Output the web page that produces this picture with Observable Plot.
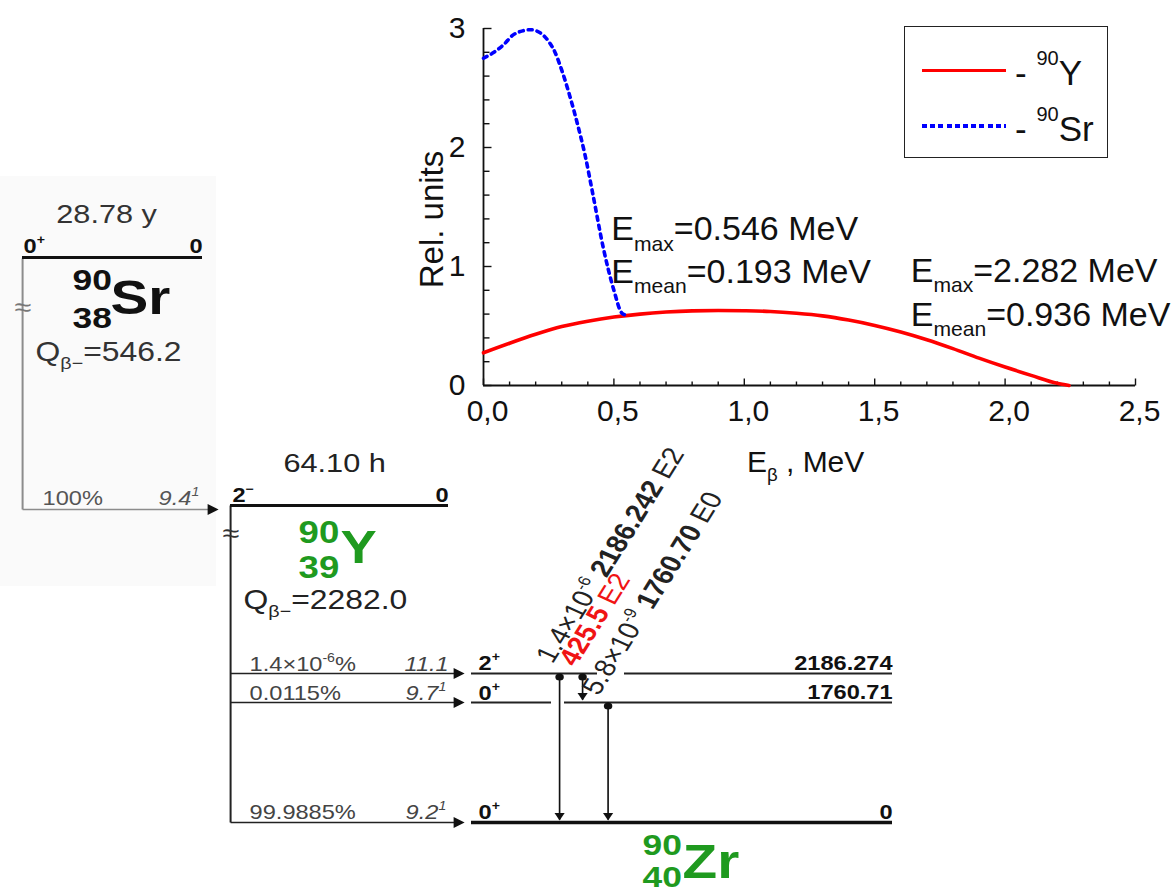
<!DOCTYPE html>
<html>
<head>
<meta charset="utf-8">
<script src="https://cdn.jsdelivr.net/npm/d3@7"></script>
<script src="https://cdn.jsdelivr.net/npm/@observablehq/plot@0.6"></script>
<style>
  html, body { margin: 0; padding: 0; background: #fff; }
  #page { position: relative; width: 1173px; height: 894px; overflow: hidden;
          font-family: "Liberation Sans", Arial, Helvetica, sans-serif; }
  #scheme { position: absolute; left: 0; top: 0; width: 1173px; height: 894px; }
  #scheme svg { transform: scaleX(1.18); transform-origin: 0 0; }
  #chart { position: absolute; left: 400px; top: 0; width: 773px; height: 500px; }
  #chart svg { background: transparent !important; }
  .lg-box { position: absolute; left: 904px; top: 26px; width: 204px; height: 132px;
            box-sizing: border-box; border: 1.5px solid #222; background: #fff; }
  .lg-red { position: absolute; left: 922px; top: 69px; width: 84px; height: 3.2px; background: #ff0000; }
  .lg-blue { position: absolute; left: 922px; top: 124px; width: 84px; height: 3.6px;
             background: repeating-linear-gradient(to right, #0000ff 0 5px, transparent 5px 8.2px); }
  .lg-text { position: absolute; left: 1015px; font-size: 35px; line-height: 35px; color: #111; white-space: pre; }
  .lg-text .sup { font-size: 20px; position: relative; top: -20px; }
</style>
</head>
<body>
<div id="page">
  <div id="scheme"></div>
  <div id="chart"></div>
  <div class="lg-box"></div>
  <div class="lg-red"></div>
  <div class="lg-blue"></div>
  <div class="lg-text" style="top:55px">- <span class="sup">90</span>Y</div>
  <div class="lg-text" style="top:111px">- <span class="sup">90</span>Sr</div>
</div>
<script>
const FONT = '"Liberation Sans", Arial, Helvetica, sans-serif';
const K = 1.18; // horizontal stretch applied to the level scheme

// ---------- Beta spectra (relative units vs. electron energy, MeV) ----------
const y90Energy = [0, 0.1, 0.2, 0.3, 0.4, 0.5, 0.6, 0.7, 0.8, 0.9, 1.0, 1.1, 1.2, 1.3, 1.4, 1.5, 1.6, 1.7, 1.8, 1.9, 2.0, 2.1, 2.2, 2.245];
const y90Rel    = [0.275, 0.355, 0.43, 0.495, 0.54, 0.575, 0.60, 0.617, 0.627, 0.63, 0.628, 0.622, 0.607, 0.585, 0.55, 0.505, 0.45, 0.385, 0.31, 0.23, 0.155, 0.085, 0.018, 0];
const sr90Energy = [0, 0.04, 0.08, 0.11, 0.15, 0.18, 0.22, 0.25, 0.27, 0.30, 0.33, 0.36, 0.39, 0.42, 0.46, 0.50, 0.53, 0.548];
const sr90Rel    = [2.75, 2.80, 2.87, 2.94, 2.98, 2.99, 2.96, 2.89, 2.82, 2.65, 2.44, 2.20, 1.93, 1.60, 1.15, 0.80, 0.61, 0.59];

const xMajor = [0, 0.5, 1, 1.5, 2, 2.5];
const xMinor = d3.range(0, 26).map(i => i / 10).filter(v => !xMajor.includes(v));
const yMajor = [0, 1, 2, 3];
const yMinor = d3.range(0, 16).map(i => i / 5).filter(v => !yMajor.includes(v));

const annotations = [
  {x: 0.49, y: 1.22, t: "E_{max}=0.546 MeV"},
  {x: 0.49, y: 0.86, t: "E_{mean}=0.193 MeV"},
  {x: 1.638, y: 0.87, t: "E_{max}=2.282 MeV"},
  {x: 1.638, y: 0.50, t: "E_{mean}=0.936 MeV"}
];

// ---------- 90Sr -> 90Y -> 90Zr level scheme (schematic layout) ----------
const backdrop = [{x1: 0, x2: 216, y1: 176, y2: 586}];
const levelLines = [
  {x1: 22, x2: 202, y: 257, w: 3},
  {x1: 230, x2: 448, y: 505, w: 3},
  {x1: 471, x2: 597, y: 673, w: 1.8}, {x1: 624, x2: 892, y: 673, w: 1.8},
  {x1: 471, x2: 551, y: 702, w: 1.8}, {x1: 564, x2: 892, y: 702, w: 1.8},
  {x1: 471, x2: 892, y: 822, w: 3.6}
];
const feedLines = [
  {x1: 22, y1: 258, x2: 22, y2: 509, c: "#8c8c8c"},
  {x1: 22, y1: 509, x2: 210, y2: 509, c: "#8c8c8c"},
  {x1: 230, y1: 505, x2: 230, y2: 822, c: "#222222"},
  {x1: 230, y1: 673, x2: 458, y2: 673, c: "#222222"},
  {x1: 230, y1: 702, x2: 458, y2: 702, c: "#222222"},
  {x1: 230, y1: 822, x2: 458, y2: 822, c: "#222222"}
];
const feedTips = [{x: 218, y: 509}, {x: 464, y: 673}, {x: 464, y: 702}, {x: 464, y: 822}];
const gammas = [
  {x: 559, y1: 673, y2: 822},
  {x: 582, y1: 673, y2: 702},
  {x: 607.5, y1: 702, y2: 822}
];
const GREEN = "#1f9a1f";
const RED = "#f01414";
const textStart = [
  {x: 35, y: 360, t: "Q_{β−}=546.2", size: 27, fill: "#333333"},
  {x: 42, y: 504, t: "100%", size: 20, fill: "#555555"},
  {x: 243, y: 608, t: "Q_{β−}=2282.0", size: 27, fill: "#222222"},
  {x: 249, y: 670, t: "1.4×10^{-6}%", size: 20, fill: "#444444"},
  {x: 249, y: 699, t: "0.0115%", size: 20, fill: "#444444"},
  {x: 249, y: 818, t: "99.9885%", size: 20, fill: "#444444"},
  {x: 552, y: 664, t: "1.4×10^{-6} *{2186.242} E2", size: 25, fill: "#222222", rot: -62},
  {x: 575, y: 667, t: "*{425.5} E2", size: 25, fill: RED, rot: -62},
  {x: 598, y: 696, t: "5.8×10^{-9} *{1760.70} E0", size: 25, fill: "#222222", rot: -62}
];
const textMiddle = [
  {x: 106, y: 222, t: "28.78 y", size: 26, fill: "#333333"},
  {x: 334, y: 471, t: "64.10 h", size: 26, fill: "#222222"},
  {x: 22, y: 315, t: "≈", size: 26, fill: "#777777"},
  {x: 230, y: 541, t: "≈", size: 26, fill: "#333333"}
];
const textItalic = [
  {x: 158, y: 504, t: "9.4^{1}", size: 20, fill: "#555555"},
  {x: 404, y: 670, t: "11.1", size: 20, fill: "#444444"},
  {x: 405, y: 699, t: "9.7^{1}", size: 20, fill: "#444444"},
  {x: 405, y: 818, t: "9.2^{1}", size: 20, fill: "#444444"}
];
const textBold = [
  {x: 23, y: 252, t: "0^{+}", size: 20, fill: "#111111"},
  {x: 72, y: 289, t: "90", size: 30, fill: "#111111"},
  {x: 72, y: 327, t: "38", size: 30, fill: "#111111"},
  {x: 110, y: 313, t: "Sr", size: 48, fill: "#111111"},
  {x: 232, y: 501, t: "2^{−}", size: 20, fill: "#111111"},
  {x: 298, y: 542, t: "90", size: 31, fill: GREEN},
  {x: 298, y: 577, t: "39", size: 31, fill: GREEN},
  {x: 340, y: 562, t: "Y", size: 46, fill: GREEN},
  {x: 478, y: 669, t: "2^{+}", size: 20, fill: "#111111"},
  {x: 478, y: 699, t: "0^{+}", size: 20, fill: "#111111"},
  {x: 478, y: 818, t: "0^{+}", size: 20, fill: "#111111"},
  {x: 642, y: 854, t: "90", size: 30, fill: GREEN},
  {x: 642, y: 886, t: "40", size: 30, fill: GREEN},
  {x: 682, y: 877, t: "Zr", size: 48, fill: GREEN}
];
const textBoldEnd = [
  {x: 202, y: 252, t: "0", size: 20, fill: "#111111"},
  {x: 448, y: 501, t: "0", size: 20, fill: "#111111"},
  {x: 892, y: 669, t: "2186.274", size: 20, fill: "#111111"},
  {x: 892, y: 698, t: "1760.71", size: 20, fill: "#111111"},
  {x: 892, y: 818, t: "0", size: 20, fill: "#111111"}
];

function labels(items, opts = {}) {
  return Plot.text(items, {
    x: "x", y: "y", text: "t", fontSize: "size",
    fill: d => d.fill, rotate: d => d.rot || 0,
    lineAnchor: "bottom", textAnchor: "start", ...opts
  });
}

const scheme = Plot.plot({
  width: 1173, height: 894, margin: 0,
  x: {type: "linear", domain: [0, 1173], range: [0, 1173 / K], axis: null},
  y: {type: "linear", domain: [0, 894], range: [0, 894], axis: null},
  style: {fontFamily: FONT, background: "white"},
  marks: [
    Plot.rect(backdrop, {x1: "x1", x2: "x2", y1: "y1", y2: "y2", fill: "#fafafa"}),
    Plot.link(feedLines, {x1: "x1", y1: "y1", x2: "x2", y2: "y2", stroke: d => d.c, strokeWidth: 1.7}),
    Plot.ruleY(levelLines.filter(d => d.w < 3), {y: "y", x1: "x1", x2: "x2", stroke: "#222", strokeWidth: 1.8}),
    Plot.ruleY(levelLines.filter(d => d.w === 3), {y: "y", x1: "x1", x2: "x2", stroke: "#111", strokeWidth: 3}),
    Plot.ruleY(levelLines.filter(d => d.w > 3), {y: "y", x1: "x1", x2: "x2", stroke: "#111", strokeWidth: 3.6}),
    Plot.dot(feedTips, {x: "x", y: "y", symbol: "triangle", r: 4, fill: "#111", stroke: null, rotate: 90, dx: -6.2}),
    Plot.link(gammas, {x1: "x", x2: "x", y1: "y1", y2: d => d.y2 - 3, stroke: "#111", strokeWidth: 1.4}),
    Plot.dot(gammas, {x: "x", y: d => d.y1 + 3.5, symbol: "circle", r: 3.6, fill: "#111", stroke: null}),
    Plot.dot(gammas, {x: "x", y: d => d.y2 - 2, symbol: "triangle", r: 3.2, fill: "#111", stroke: null, rotate: 180, dy: -4.9}),
    labels(textStart),
    labels(textMiddle, {textAnchor: "middle"}),
    labels(textItalic, {fontStyle: "italic"}),
    labels(textBold, {fontWeight: "bold"}),
    labels(textBoldEnd, {fontWeight: "bold", textAnchor: "end"})
  ]
});

// ---------- Spectrum chart ----------
const plotW = 773 - 83 - 38, plotH = 500 - 28 - 115;
const xPerPx = 2.5 / plotW, yPerPx = 3 / plotH;
const y90Rows = y90Energy.map((E, i) => ({E, rel: y90Rel[i]}));
const sr90Rows = sr90Energy.map((E, i) => ({E, rel: sr90Rel[i]}));
const commaFmt = d => d.toFixed(1).replace(".", ",");

const chart = Plot.plot({
  width: 773, height: 500,
  marginLeft: 83, marginRight: 38, marginTop: 28, marginBottom: 115,
  style: {background: "transparent", fontFamily: FONT, fontSize: "30px", color: "#111"},
  x: {domain: [0, 2.5]},
  y: {domain: [0, 3]},
  marks: [
    Plot.axisX({ticks: xMajor, tickSize: 0, tickPadding: 14, dx: 4, tickFormat: commaFmt, label: null, fontSize: 30}),
    Plot.axisY({ticks: yMajor, tickSize: 0, tickPadding: 18, tickFormat: d => String(d), label: null, fontSize: 30}),
    Plot.link(xMinor, {x1: d => d, x2: d => d, y1: () => 0, y2: () => 4 * yPerPx, stroke: "#111", strokeWidth: 1.4}),
    Plot.link(xMajor, {x1: d => d, x2: d => d, y1: () => 0, y2: () => 7 * yPerPx, stroke: "#111", strokeWidth: 1.4}),
    Plot.link(yMinor, {y1: d => d, y2: d => d, x1: () => 0, x2: () => 6 * xPerPx, stroke: "#111", strokeWidth: 1.4}),
    Plot.link(yMajor, {y1: d => d, y2: d => d, x1: () => 0, x2: () => 8 * xPerPx, stroke: "#111", strokeWidth: 1.4}),
    Plot.ruleY([0], {stroke: "#111", strokeWidth: 1.8}),
    Plot.ruleX([0], {stroke: "#111", strokeWidth: 1.8}),
    Plot.line(y90Rows, {x: "E", y: "rel", stroke: "#ff0000", strokeWidth: 3.6, curve: "monotone-x"}),
    Plot.line(sr90Rows, {x: "E", y: "rel", stroke: "#0000ff", strokeWidth: 3.6, strokeDasharray: "4,5", curve: "monotone-x"}),
    Plot.text(annotations, {x: "x", y: "y", text: "t", fontSize: 34, textAnchor: "start", lineAnchor: "bottom", fill: "#111"}),
    Plot.text(["E_{β} , MeV"], {x: () => 1.01, y: () => -0.73, text: d => d, fontSize: 30, textAnchor: "start", lineAnchor: "bottom", fill: "#111"}),
    Plot.text(["Rel. units"], {x: () => -0.194, y: () => 1.395, text: d => d, fontSize: 33, rotate: -90, textAnchor: "middle", lineAnchor: "middle", fill: "#111"})
  ]
});

document.getElementById("scheme").appendChild(scheme);
document.getElementById("chart").appendChild(chart);

// Turn _{..} (subscript), ^{..} (superscript) and *{..} (bold) markup into tspans
function enrich(root) {
  root.querySelectorAll("text").forEach(el => {
    const s = el.textContent;
    if (!/[_^*]\{/.test(s)) return;
    const fs = parseFloat(getComputedStyle(el).fontSize) || 16;
    const parts = [];
    const re = /([_^*])\{([^}]*)\}/g;
    let last = 0, m;
    while ((m = re.exec(s))) {
      if (m.index > last) parts.push({t: s.slice(last, m.index)});
      parts.push({t: m[2], k: m[1]});
      last = re.lastIndex;
    }
    if (last < s.length) parts.push({t: s.slice(last)});
    while (el.firstChild) el.removeChild(el.firstChild);
    let shift = 0;
    for (const p of parts) {
      const ts = document.createElementNS("http://www.w3.org/2000/svg", "tspan");
      let target = 0;
      if (p.k === "_") { target = 0.3 * fs; ts.setAttribute("font-size", (0.62 * fs).toFixed(1)); }
      else if (p.k === "^") { target = -0.42 * fs; ts.setAttribute("font-size", (0.6 * fs).toFixed(1)); }
      else if (p.k === "*") { ts.setAttribute("font-weight", "bold"); }
      if (target !== shift) { ts.setAttribute("dy", (target - shift).toFixed(2)); shift = target; }
      ts.textContent = p.t;
      el.appendChild(ts);
    }
  });
}
enrich(scheme);
enrich(chart);
</script>
</body>
</html>
